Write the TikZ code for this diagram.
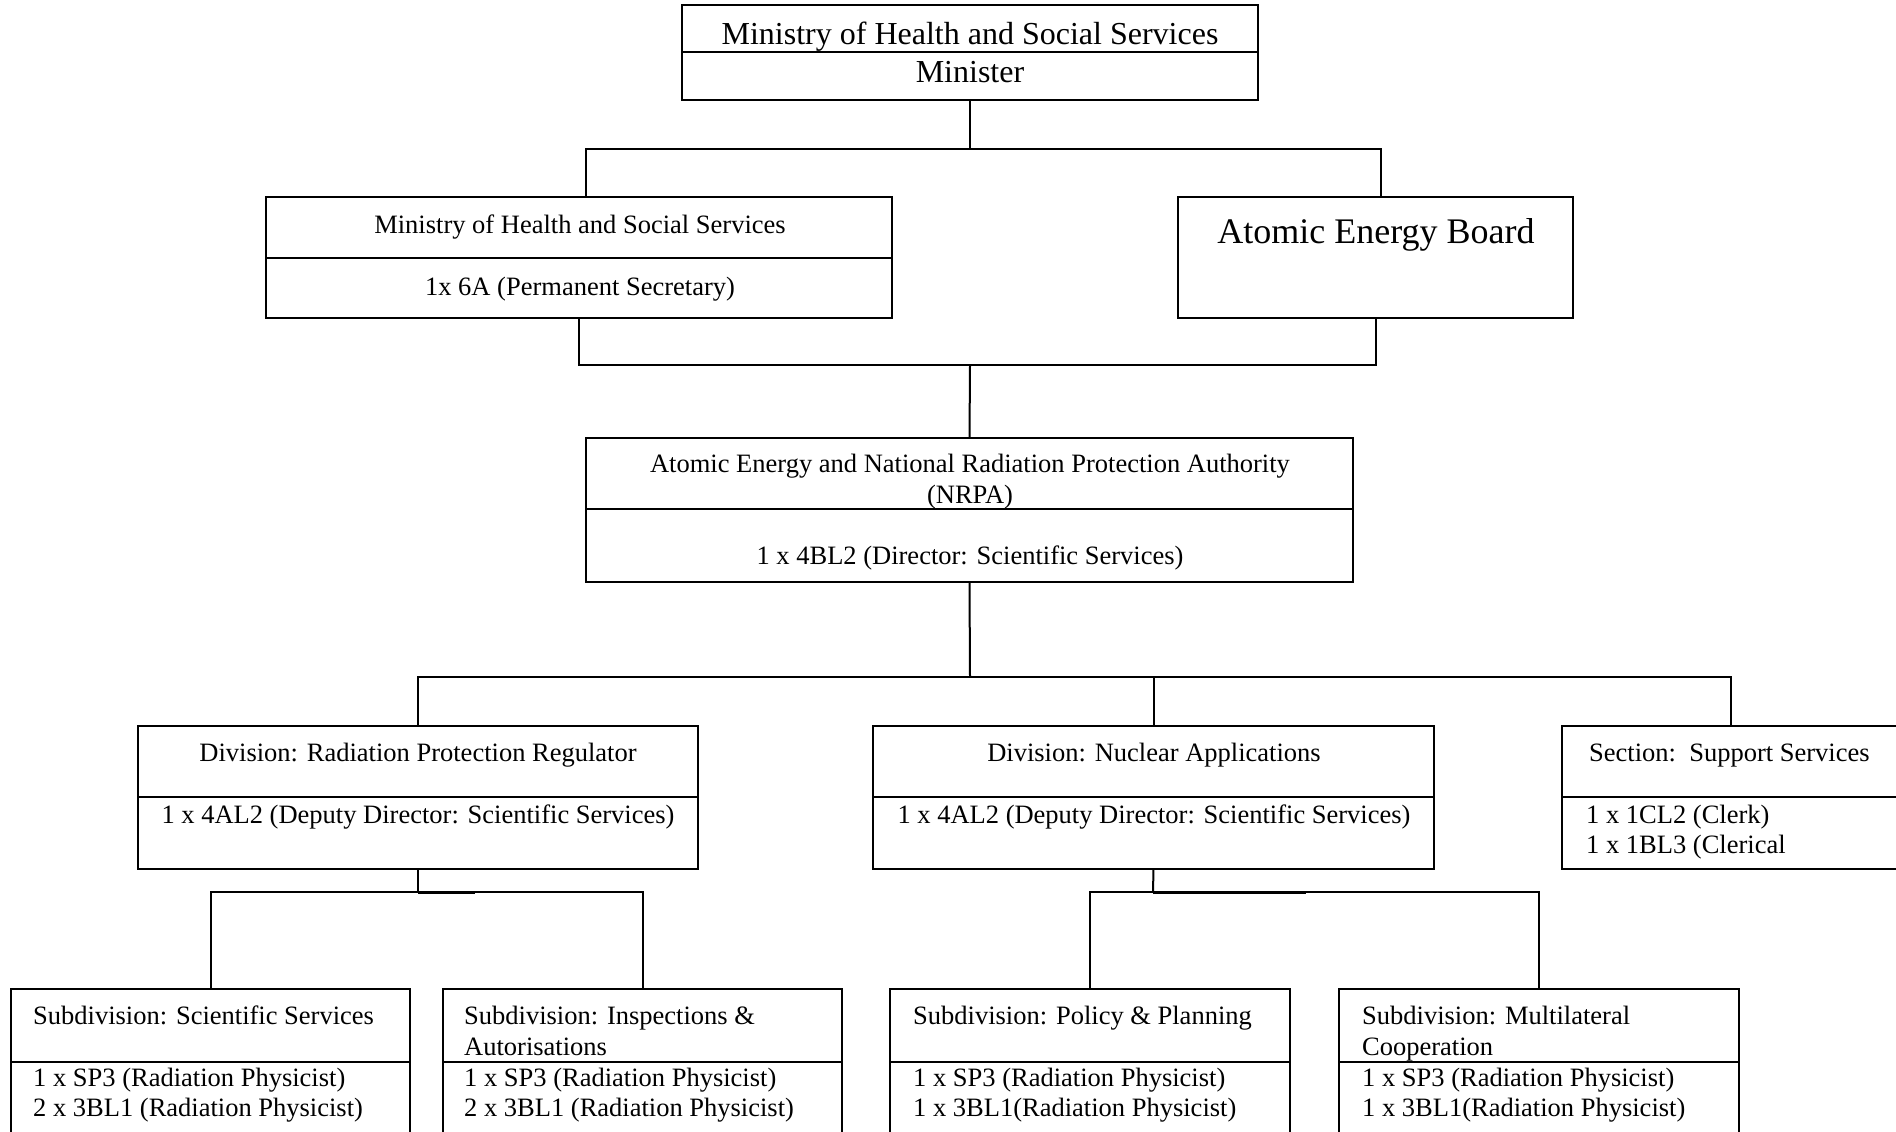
\documentclass[tikz,border=0pt]{standalone}
\usepackage{fontspec}
\setmainfont{Liberation Serif}
\begin{document}
\begin{tikzpicture}[x=1pt,y=-1pt,
  box/.style={draw,line width=2pt,inner sep=0pt,outer sep=0pt,anchor=north west,rectangle},
  ln/.style={line width=2pt},
  txt/.style={inner sep=0pt,font=\fontsize{26.5}{31}\selectfont},
  toptxt/.style={inner sep=0pt,font=\fontsize{32}{36}\selectfont},
  bigtxt/.style={inner sep=0pt,font=\fontsize{36}{40}\selectfont}]
\useasboundingbox (0,0) rectangle (1896,1132);
% boxes
\node[box,minimum width=576pt,minimum height=95pt] (top) at (682,5) {};
\node[box,minimum width=626pt,minimum height=121pt] (mohss) at (266,197) {};
\node[box,minimum width=395pt,minimum height=121pt] (aeb) at (1178,197) {};
\node[box,minimum width=767pt,minimum height=144pt] (nrpa) at (586,438) {};
\node[box,minimum width=560pt,minimum height=143pt] (div1) at (138,726) {};
\node[box,minimum width=561pt,minimum height=143pt] (div2) at (873,726) {};
\node[box,minimum width=337pt,minimum height=143pt] (sect) at (1562,726) {};
\node[box,minimum width=399pt,minimum height=170pt] (sub1) at (11,989) {};
\node[box,minimum width=399pt,minimum height=170pt] (sub2) at (443,989) {};
\node[box,minimum width=400pt,minimum height=170pt] (sub3) at (890,989) {};
\node[box,minimum width=400pt,minimum height=170pt] (sub4) at (1339,989) {};
% dividers
\draw[ln] (top.west |- 0,52) -- (top.east |- 0,52);
\draw[ln] (mohss.west |- 0,258) -- (mohss.east |- 0,258);
\draw[ln] (nrpa.west |- 0,509) -- (nrpa.east |- 0,509);
\draw[ln] (div1.west |- 0,797) -- (div1.east |- 0,797);
\draw[ln] (div2.west |- 0,797) -- (div2.east |- 0,797);
\draw[ln] (sect.west |- 0,797) -- (sect.east |- 0,797);
\draw[ln] (sub1.west |- 0,1062) -- (sub1.east |- 0,1062);
\draw[ln] (sub2.west |- 0,1062) -- (sub2.east |- 0,1062);
\draw[ln] (sub3.west |- 0,1062) -- (sub3.east |- 0,1062);
\draw[ln] (sub4.west |- 0,1062) -- (sub4.east |- 0,1062);
% connectors
\coordinate (b1) at (970,149);
\coordinate (b2) at (970,365);
\coordinate (b3) at (970,677);
\coordinate (b4) at (418,892);
\coordinate (b5) at (1153,892);
\draw[ln] (top.south) -- (b1);
\draw[ln] ([xshift=7pt]mohss.north) |- (b1) -| ([xshift=5.5pt]aeb.north);
\draw[ln] (mohss.south) |- (b2) -| (aeb.south);
\draw[ln] (b2) -- (nrpa.north);
\draw[ln] (nrpa.south) -- (b3);
\draw[ln] (div1.north) |- (b3) -| (sect.north);
\draw[ln] (div2.north) -- (div2.north |- b3);
\draw[ln] (div1.south) -- (b4);
\draw[ln] (sub1.north) |- (b4) -| (sub2.north);
\draw[ln] (div2.south) -- (b5);
\draw[ln] (sub3.north) |- (b5) -| (sub4.north);
\draw[line width=3pt] (b4) -- ++(57,0);
\draw[line width=3pt] (b5) -- ++(153,0);
% texts
\node[toptxt,anchor=base] (t1) at (970,45) {Ministry of Health and Social Services};
\node[toptxt,anchor=base] (t2) at (970,83) {Minister};
\node[txt,anchor=base] (t3) at (580,233.5) {Ministry of Health and Social Services};
\node[txt,anchor=base] (t4) at (580,295.5) {1x 6A (Permanent Secretary)};
\node[bigtxt,anchor=base] (t5) at (1376,243.5) {Atomic Energy Board};
\node[txt,anchor=base] (t6) at (970,472.5) {Atomic Energy and National Radiation Protection Authority};
\node[txt,anchor=base] (t7) at (970,503.5) {(NRPA)};
\node[txt,anchor=base] (t8) at (970,564.5) {1 x 4BL2 (Director: Scientific Services)};
\node[txt,anchor=base] (t9) at (418,761.5) {Division: Radiation Protection Regulator};
\node[txt,anchor=base] (t10) at (418,823) {1 x 4AL2 (Deputy Director: Scientific Services)};
\node[txt,anchor=base] (t11) at (1154,761.5) {Division: Nuclear Applications};
\node[txt,anchor=base] (t12) at (1154,823) {1 x 4AL2 (Deputy Director: Scientific Services)};
\node[txt,anchor=base west] (t13) at (1589,761.5) {Section:\ \ Support Services};
\node[txt,anchor=base west] (t14) at (1586,823) {1 x 1CL2 (Clerk)};
\node[txt,anchor=base west] (t15) at (1586,853) {1 x 1BL3 (Clerical};
% subdivisions
\node[txt,anchor=base west] (s1a) at (33,1024.5) {Subdivision: Scientific Services};
\node[txt,anchor=base west] (s1b) at (33,1086.5) {1 x SP3 (Radiation Physicist)};
\node[txt,anchor=base west] (s1c) at (33,1116.5) {2 x 3BL1 (Radiation Physicist)};
\node[txt,anchor=base west] (s2a) at (464,1024.5) {Subdivision: Inspections \&};
\node[txt,anchor=base west] (s2b) at (464,1055.5) {Autorisations};
\node[txt,anchor=base west] (s2c) at (464,1086.5) {1 x SP3 (Radiation Physicist)};
\node[txt,anchor=base west] (s2d) at (464,1116.5) {2 x 3BL1 (Radiation Physicist)};
\node[txt,anchor=base west] (s3a) at (913,1024.5) {Subdivision: Policy \& Planning};
\node[txt,anchor=base west] (s3b) at (913,1086.5) {1 x SP3 (Radiation Physicist)};
\node[txt,anchor=base west] (s3c) at (913,1116.5) {1 x 3BL1(Radiation Physicist)};
\node[txt,anchor=base west] (s4a) at (1362,1024.5) {Subdivision: Multilateral};
\node[txt,anchor=base west] (s4b) at (1362,1055.5) {Cooperation};
\node[txt,anchor=base west] (s4c) at (1362,1086.5) {1 x SP3 (Radiation Physicist)};
\node[txt,anchor=base west] (s4d) at (1362,1116.5) {1 x 3BL1(Radiation Physicist)};
\end{tikzpicture}
\end{document}
